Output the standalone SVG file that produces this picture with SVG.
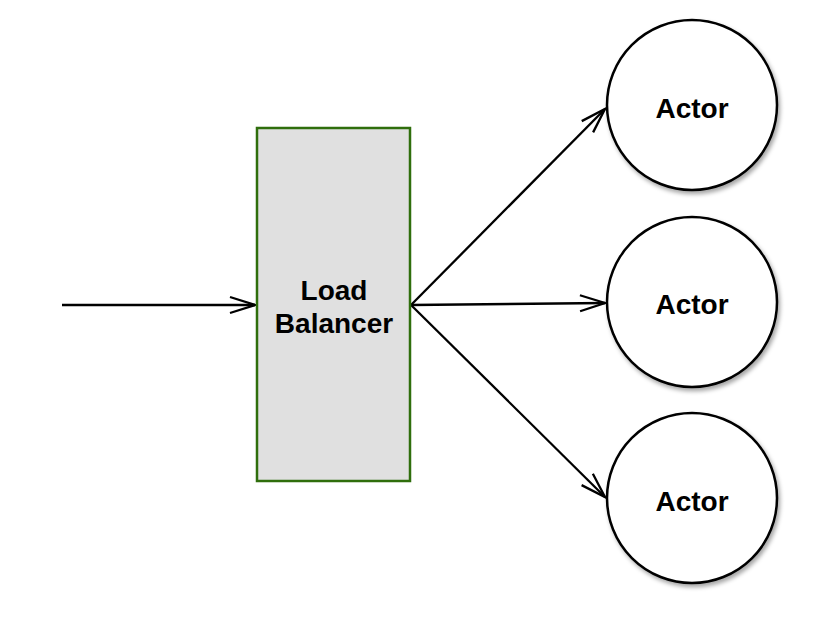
<svg xmlns="http://www.w3.org/2000/svg" width="826" height="626" viewBox="0 0 826 626">
  <style>
    .lbl { font-family: "Liberation Sans", Arial, sans-serif; font-weight: bold; font-size: 28px; fill: #000; text-anchor: middle; }
    .edge { stroke: #000; stroke-width: 2.3; fill: none; marker-end: url(#arrow); }
    .actor { fill: #fff; stroke: #000; stroke-width: 2.5; filter: url(#shadow); }
  </style>
  <defs>
    <marker id="arrow" markerUnits="userSpaceOnUse" markerWidth="30" markerHeight="20" refX="25" refY="8" orient="auto" overflow="visible">
      <path d="M0,0 L25,8 L0,16" fill="none" stroke="#000" stroke-width="2.3"/>
    </marker>
    <filter id="shadow" x="-20%" y="-20%" width="150%" height="150%">
      <feDropShadow dx="2" dy="3" stdDeviation="2" flood-color="#000" flood-opacity="0.35"/>
    </filter>
  </defs>
  <rect width="826" height="626" fill="#fff"/>
  <g id="connectors">
    <line class="edge" x1="62" y1="305" x2="255" y2="305"/>
    <line class="edge" x1="411" y1="305" x2="605" y2="109"/>
    <line class="edge" x1="411" y1="305" x2="605" y2="303"/>
    <line class="edge" x1="411" y1="305" x2="605" y2="497"/>
  </g>
  <g id="load-balancer">
    <rect x="257" y="128" width="153" height="353" fill="#e0e0e0" stroke="#2f6e0c" stroke-width="2.5"/>
    <text class="lbl" x="334" y="300">Load</text>
    <text class="lbl" x="334" y="333">Balancer</text>
  </g>
  <g id="actor-1">
    <circle class="actor" cx="692" cy="105" r="85"/>
    <text class="lbl" x="692" y="118">Actor</text>
  </g>
  <g id="actor-2">
    <circle class="actor" cx="692" cy="302" r="85"/>
    <text class="lbl" x="692" y="314">Actor</text>
  </g>
  <g id="actor-3">
    <circle class="actor" cx="692" cy="498" r="85"/>
    <text class="lbl" x="692" y="511">Actor</text>
  </g>
</svg>
